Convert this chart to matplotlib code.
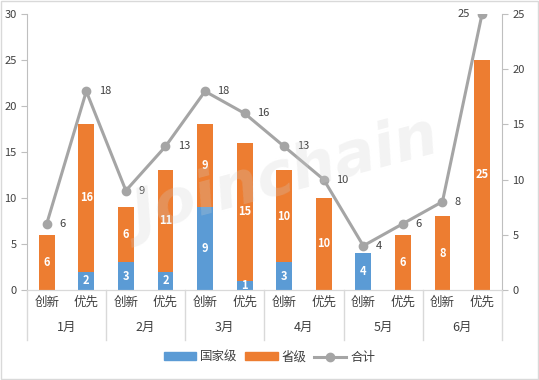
import numpy as np
import matplotlib.pyplot as plt
from matplotlib.lines import Line2D
from matplotlib.patches import Patch

plt.rcParams['font.family'] = ['Noto Sans CJK SC', 'DejaVu Sans']

# ── data ──────────────────────────────────────────
months = ["1月", "2月", "3月", "4月", "5月", "6月"]
kinds = ["创新", "优先"]
national = [0, 2, 3, 2, 9, 1, 3, 0, 4, 0, 0, 0]
provincial = [6, 16, 6, 11, 9, 15, 10, 10, 0, 6, 8, 25]
total = [6, 18, 9, 13, 18, 16, 13, 10, 4, 6, 8, 25]

BLUE = "#5B9BD5"
ORANGE = "#ED7D31"
GRAY = "#A5A5A5"
TXT = "#404040"

x = np.arange(len(total))
fig = plt.figure(figsize=(5.39, 3.80), dpi=100)
ax = fig.add_axes([0.050, 0.237, 0.881, 0.726])
ax2 = ax.twinx()

b1 = ax.bar(x, national, width=0.4, color=BLUE)
b2 = ax.bar(x, provincial, width=0.4, bottom=national, color=ORANGE)
for i in range(len(x)):
    if national[i] > 0:
        ax.text(x[i], national[i] / 2, str(national[i]), ha="center", va="center",
                color="white", fontsize=8, fontweight="bold")
    if provincial[i] > 0:
        ax.text(x[i], national[i] + provincial[i] / 2, str(provincial[i]), ha="center",
                va="center", color="white", fontsize=8, fontweight="bold")

ax2.plot(x, total, color=GRAY, lw=2.2, marker="o", ms=6, zorder=3)
for i, v in enumerate(total):
    if i == len(total) - 1:
        ax2.annotate(str(v), (x[i], v), xytext=(-9, 0), textcoords="offset points",
                     ha="right", va="center", fontsize=8, color=TXT)
    else:
        ax2.annotate(str(v), (x[i], v), xytext=(9, 0), textcoords="offset points",
                     ha="left", va="center", fontsize=8, color=TXT)

ax.set_xlim(-0.5, len(x) - 0.5)
ax.set_ylim(0, 30)
ax2.set_ylim(0, 25)
ax.set_yticks(range(0, 31, 5))
ax2.set_yticks(range(0, 26, 5))

for a in (ax, ax2):
    a.spines["top"].set_visible(False)
    a.spines["left"].set_color("#BFBFBF")
    a.spines["right"].set_color("#BFBFBF")
    a.spines["bottom"].set_color("#D9D9D9")
    a.tick_params(axis="y", colors="#BFBFBF", labelcolor=TXT, labelsize=8, length=4)
ax.spines["right"].set_visible(False)
ax2.spines["left"].set_visible(False)

# category axis: two levels
ax.set_xticks(x)
ax.set_xticklabels([kinds[i % 2] for i in range(len(x))], fontsize=9, color=TXT)
ax.tick_params(axis="x", length=0, pad=4)
trans = ax.get_xaxis_transform()
for m, name in enumerate(months):
    ax.text(2 * m + 0.5, -0.137, name, transform=trans, ha="center", va="center",
            fontsize=9, color=TXT)
for b in np.arange(-0.5, len(x), 2):
    ax.add_line(Line2D([b, b], [0, -0.18], transform=trans, color="#D9D9D9",
                       lw=1, clip_on=False))

# watermark
fig.text(0.53, 0.53, "Joinchain", fontsize=44, fontweight="bold", color="#D0D0D0",
         alpha=0.25, rotation=15, ha="center", va="center", style="italic",
         family="DejaVu Sans")

handles = [Patch(color=BLUE, label="国家级"), Patch(color=ORANGE, label="省级"),
           Line2D([], [], color=GRAY, lw=2.2, marker="o", ms=6, label="合计")]
fig.legend(handles=handles, loc="center", bbox_to_anchor=(0.5, 0.06), ncol=3,
           frameon=False, fontsize=9, handlelength=2.6, handleheight=0.6,
           columnspacing=0.6, handletextpad=0.3, labelcolor=TXT)

fig.patches.append(plt.Rectangle((0.002, 0.003), 0.996, 0.994, transform=fig.transFigure,
                                 fill=False, edgecolor="#D9D9D9", lw=1))

plt.savefig("out.png", dpi=100)
